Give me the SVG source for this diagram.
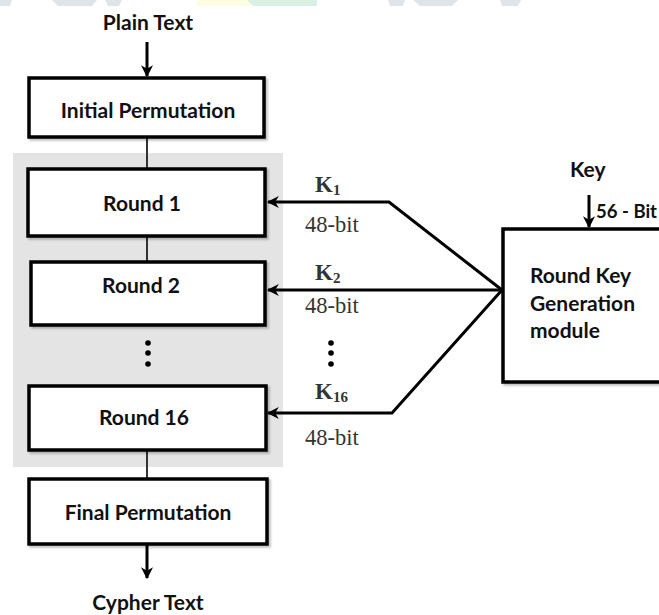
<svg xmlns="http://www.w3.org/2000/svg" width="659" height="615" viewBox="0 0 659 615">
<defs>
<marker id="ah" viewBox="0 0 10 10" refX="9" refY="5" markerWidth="4" markerHeight="4" orient="auto" markerUnits="strokeWidth">
<path d="M0,0 L10,5 L0,10 L3,5 Z" fill="#000"/>
</marker>
<filter id="sh" x="-5%" y="-5%" width="115%" height="120%">
<feDropShadow dx="2" dy="2" stdDeviation="1" flood-color="#000" flood-opacity="0.25"/>
</filter>
</defs>
<style>
.box{fill:#fff;stroke:#000;stroke-width:3.5;filter:url(#sh)}
.lbl{font-family:Lato,"Open Sans","Liberation Sans",sans-serif;font-weight:bold;font-size:21px;fill:#111}
.k{font-family:"Liberation Serif","DejaVu Serif",serif;font-weight:bold;font-size:23px;fill:#333}
.ks{font-size:15px}
.bit{font-family:"Liberation Serif","DejaVu Serif",serif;font-size:22.5px;fill:#333}
.ln{stroke:#000;stroke-width:3;fill:none}
.vl{stroke:#333;stroke-width:2;fill:none}
.dot{fill:#000}
</style>
<rect width="659" height="615" fill="#fff"/>
<g id="watermark" opacity="0.9">
<polygon points="0,0 12,0 10,6 0,6" fill="#dde2e5"/>
<polygon points="52,0 97,0 92,6 58,6" fill="#dde2e5"/>
<polygon points="105,0 122,0 119,6 108,6" fill="#dde2e5"/>
<rect x="197" y="0" width="53" height="6" fill="#fdfde0"/>
<polygon points="247,0 317,0 317,6 253,6" fill="#d7efe3"/>
<polygon points="388,0 405,0 403,6 390,6" fill="#dde2e5"/>
<polygon points="413,0 458,0 452,6 420,6" fill="#dde2e5"/>
<polygon points="500,0 521,0 518,6 502,6" fill="#dde2e5"/>
</g>
<rect id="panel" x="13" y="153" width="270" height="314" fill="#e4e4e4"/>
<g id="connectors">
<line class="ln" x1="147" y1="42" x2="147" y2="76" marker-end="url(#ah)"/>
<line class="vl" x1="147" y1="138" x2="147" y2="168"/>
<line class="vl" x1="147" y1="237" x2="147" y2="261"/>
<line class="vl" x1="147" y1="450" x2="147" y2="478"/>
<line class="ln" x1="147" y1="544" x2="147" y2="578" marker-end="url(#ah)"/>
<polyline class="ln" points="502,290 389,202 268,202" marker-end="url(#ah)"/>
<line class="ln" x1="502" y1="290" x2="268" y2="290" marker-end="url(#ah)"/>
<polyline class="ln" points="502,290 392,413 268,413" marker-end="url(#ah)"/>
<line class="ln" x1="589" y1="195" x2="589" y2="227" marker-end="url(#ah)"/>
</g>
<g id="plain-text"><text class="lbl" x="148" y="30" text-anchor="middle">Plain Text</text></g>
<g id="initial-permutation">
<rect class="box" x="29" y="78" width="235" height="59"/>
<text class="lbl" x="148" y="118" text-anchor="middle">Initial Permutation</text>
</g>
<g id="round1">
<rect class="box" x="28" y="169" width="237" height="67"/>
<text class="lbl" x="142" y="211" text-anchor="middle">Round 1</text>
</g>
<g id="round2">
<rect class="box" x="31" y="262" width="234" height="63"/>
<text class="lbl" x="141" y="293" text-anchor="middle">Round 2</text>
</g>
<g id="dots-left">
<circle class="dot" cx="148" cy="343" r="2.8"/>
<circle class="dot" cx="148" cy="353" r="2.8"/>
<circle class="dot" cx="148" cy="364" r="2.8"/>
</g>
<g id="round16">
<rect class="box" x="29" y="386" width="237" height="64"/>
<text class="lbl" x="144" y="425" text-anchor="middle">Round 16</text>
</g>
<g id="final-permutation">
<rect class="box" x="29" y="479" width="238" height="65"/>
<text class="lbl" x="148" y="520" text-anchor="middle">Final Permutation</text>
</g>
<g id="cypher-text"><text class="lbl" x="148" y="610" text-anchor="middle">Cypher Text</text></g>
<g id="k-labels">
<text class="k" x="315" y="192">K<tspan class="ks" dy="3">1</tspan></text>
<text class="bit" x="305" y="232">48-bit</text>
<text class="k" x="315" y="280">K<tspan class="ks" dy="3">2</tspan></text>
<text class="bit" x="305" y="313">48-bit</text>
<circle class="dot" cx="331" cy="343" r="2.8"/>
<circle class="dot" cx="331" cy="353" r="2.8"/>
<circle class="dot" cx="331" cy="364" r="2.8"/>
<text class="k" x="315" y="399">K<tspan class="ks" dy="3">16</tspan></text>
<text class="bit" x="305" y="445">48-bit</text>
</g>
<g id="key">
<text class="lbl" x="570" y="177">Key</text>
<text class="lbl" x="596" y="218" style="font-size:19px" textLength="61" lengthAdjust="spacingAndGlyphs">56 - Bit</text>
</g>
<g id="round-key-generation">
<rect class="box" x="503" y="229" width="170" height="153"/>
<text class="lbl" x="530" y="283">Round Key</text>
<text class="lbl" x="530" y="311">Generation</text>
<text class="lbl" x="530" y="338">module</text>
</g>
</svg>
